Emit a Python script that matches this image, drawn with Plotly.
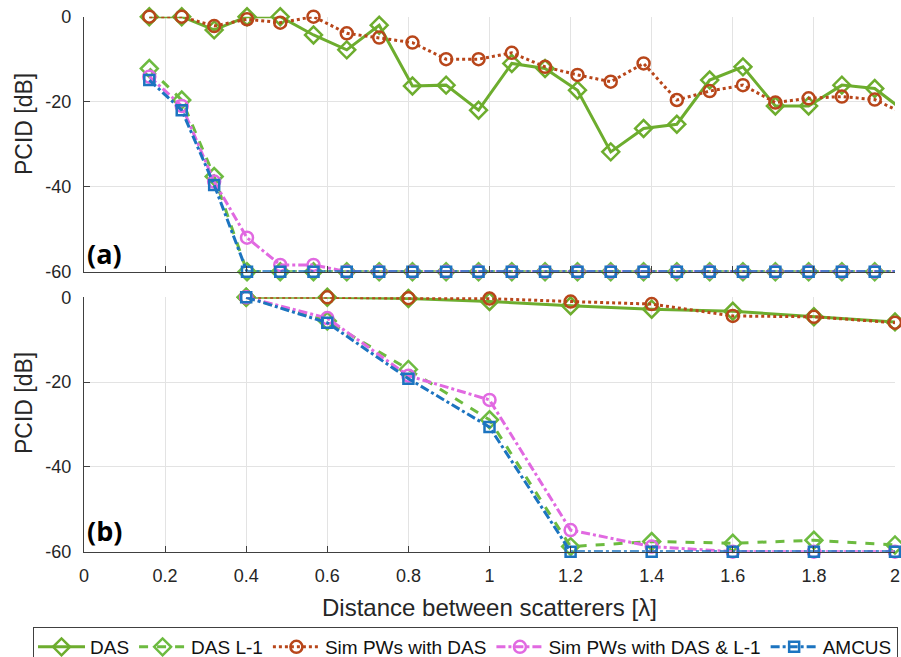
import plotly.graph_objects as go

# ---------------- data ----------------
x_top = [0.161, 0.241, 0.321, 0.402, 0.484, 0.566, 0.648, 0.728, 0.810, 0.893, 0.973, 1.055,
         1.137, 1.217, 1.299, 1.380, 1.462, 1.543, 1.625, 1.705, 1.787, 1.869, 1.950, 2.031]
top_das = [0, 0, -3.1, 0, 0, -4.3, -7.8, -2.0, -16.3, -16.1, -22.0, -11.0,
           -12.2, -17.3, -31.8, -26.3, -25.3, -14.9, -11.8, -21.0, -21.0, -16.1, -16.9, -22.8]
top_das_l1 = [-12.2, -19.6, -37.6, -60, -60, -60, -60, -60, -60, -60, -60, -60,
              -60, -60, -60, -60, -60, -60, -60, -60, -60, -60, -60, -60]
top_sim = [0, 0, -2.2, -0.6, -1.4, 0, -3.9, -4.9, -6.1, -10.0, -10.0, -8.5,
           -11.8, -13.7, -15.3, -11.0, -19.6, -17.5, -16.1, -20.2, -19.2, -18.8, -19.5, -23.2]
top_sim_l1 = [-14.1, -21.0, -38.8, -52.0, -58.4, -58.4, -60, -60, -60, -60, -60, -60,
              -60, -60, -60, -60, -60, -60, -60, -60, -60, -60, -60, -60]
top_amcus = [-14.9, -22.0, -39.6, -60, -60, -60, -60, -60, -60, -60, -60, -60,
             -60, -60, -60, -60, -60, -60, -60, -60, -60, -60, -60, -60]

x_bot = [0.4, 0.6, 0.8, 1.0, 1.2, 1.4, 1.6, 1.8, 2.0]
bot_das = [0, 0, -0.3, -1.0, -2.0, -2.8, -3.3, -4.6, -5.8]
bot_das_l1 = [0, -5.6, -17.0, -28.9, -58.8, -57.6, -58.0, -57.3, -58.4]
bot_sim = [0, 0, -0.2, -0.3, -1.0, -1.6, -4.4, -4.6, -6.0]
bot_sim_l1 = [0, -4.9, -18.5, -24.2, -54.9, -58.8, -60, -60, -60]
bot_amcus = [0, -6.0, -19.2, -30.6, -60, -60, -60, -60, -60]

series_names = ["DAS", "DAS L-1", "Sim PWs with DAS", "Sim PWs with DAS & L-1", "AMCUS"]
x_ticks = [0, 0.2, 0.4, 0.6, 0.8, 1.0, 1.2, 1.4, 1.6, 1.8, 2.0]
x_ticktext = ["0", "0.2", "0.4", "0.6", "0.8", "1", "1.2", "1.4", "1.6", "1.8", "2"]
y_ticks = [0, -20, -40, -60]
y_ticktext = ["0", "-20", "-40", "-60"]

# ---------------- styles ----------------
colors = ["#6DAD2E", "#6DBB40", "#B8461A", "#E169E1", "#1C74C0"]
dashes = ["solid", "dash", "dot", "dashdot", "dashdot"]
symbols = ["diamond-open", "diamond-open", "circle-open", "circle-open", "square-open"]
msizes = [13, 13, 12, 12, 10]

top_data = [top_das, top_das_l1, top_sim, top_sim_l1, top_amcus]
bot_data = [bot_das, bot_das_l1, bot_sim, bot_sim_l1, bot_amcus]

fig = go.Figure()
for i, name in enumerate(series_names):
    fig.add_trace(go.Scatter(
        x=x_top, y=top_data[i], name=name, mode="lines+markers",
        line=dict(color=colors[i], width=3, dash=dashes[i]),
        marker=dict(symbol=symbols[i], size=msizes[i], color=colors[i],
                    line=dict(color=colors[i], width=2.5)),
        cliponaxis=False, xaxis="x", yaxis="y", legendgroup=name, showlegend=True))
for i, name in enumerate(series_names):
    fig.add_trace(go.Scatter(
        x=x_bot, y=bot_data[i], name=name, mode="lines+markers",
        line=dict(color=colors[i], width=3, dash=dashes[i]),
        marker=dict(symbol=symbols[i], size=msizes[i], color=colors[i],
                    line=dict(color=colors[i], width=2.5)),
        cliponaxis=False, xaxis="x2", yaxis="y2", legendgroup=name, showlegend=False))

PH = 627.0   # plot-area height in px (bottom margin holds the legend)
PW = 811.0
top_dom = [1 - 271.7 / PH, 1 - 16.7 / PH]
bot_dom = [1 - 551.7 / PH, 1 - 297.3 / PH]

FONT = "Liberation Sans, Arial, sans-serif"
axis_font = dict(family=FONT, size=18, color="#262626")
common_x = dict(range=[0, 2], tickvals=x_ticks, ticktext=x_ticktext, showgrid=True,
                gridcolor="#E3E3E3", gridwidth=1, showline=True, linecolor="#404040",
                linewidth=1.2, ticks="inside", ticklen=6, tickcolor="#404040",
                zeroline=False, tickfont=axis_font, automargin=False)
common_y = dict(range=[-60, 0], tickvals=y_ticks, ticktext=y_ticktext, showgrid=True,
                gridcolor="#E3E3E3", gridwidth=1, showline=True, linecolor="#404040",
                linewidth=1.2, ticks="inside", ticklen=6, tickcolor="#404040",
                zeroline=False, tickfont=axis_font, ticklabelstandoff=8, automargin=False)

fig.update_layout(
    width=901, height=657, autosize=False,
    margin=dict(l=84, r=6, t=0, b=30, autoexpand=False),
    paper_bgcolor="white", plot_bgcolor="white",
    font=dict(family=FONT, color="#262626"),
    xaxis=dict(common_x, domain=[0, 1], anchor="y", showticklabels=False),
    yaxis=dict(common_y, domain=top_dom, anchor="x"),
    xaxis2=dict(common_x, domain=[0, 1], anchor="y2", showticklabels=True, ticklabelstandoff=8),
    yaxis2=dict(common_y, domain=bot_dom, anchor="x2"),
    showlegend=True,
    legend=dict(orientation="h", x=(33 - 84) / PW, xanchor="left",
                y=0, yanchor="top",
                bordercolor="#404040", borderwidth=1,
                bgcolor="white", font=dict(family=FONT, size=19, color="#111111"),
                tracegroupgap=0, itemwidth=47),
    annotations=[
        dict(text="Distance between scatterers [λ]", xref="paper", yref="paper",
             x=0.5, y=1 - 607 / PH, xanchor="center", yanchor="middle", showarrow=False,
             font=dict(size=24, color="#262626")),
        dict(text="PCID [dB]", xref="paper", yref="paper", x=(24 - 84) / PW,
             y=1 - 124 / PH, xanchor="center", yanchor="middle", textangle=-90,
             showarrow=False, font=dict(size=23, color="#262626")),
        dict(text="PCID [dB]", xref="paper", yref="paper", x=(24 - 84) / PW,
             y=1 - 403 / PH, xanchor="center", yanchor="middle", textangle=-90,
             showarrow=False, font=dict(size=23, color="#262626")),
        dict(text="<b>(a)</b>", xref="paper", yref="paper", x=(85 - 84) / PW,
             y=1 - 254 / PH, xanchor="left", yanchor="middle", showarrow=False,
             font=dict(family="Open Sans, Lato, sans-serif", size=27, color="black")),
        dict(text="<b>(b)</b>", xref="paper", yref="paper", x=(85 - 84) / PW,
             y=1 - 530 / PH, xanchor="left", yanchor="middle", showarrow=False,
             font=dict(family="Open Sans, Lato, sans-serif", size=27, color="black")),
    ],
)

fig.write_html("out.html", config={"displayModeBar": False},
               post_script="document.body.style.margin='0';document.body.style.padding='0';")
